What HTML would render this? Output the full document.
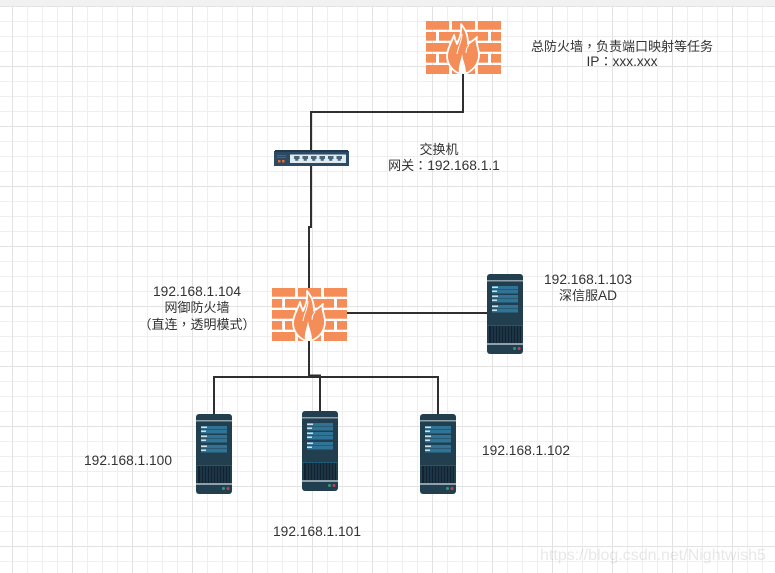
<!DOCTYPE html>
<html><head><meta charset="utf-8"><style>
html,body{margin:0;padding:0;background:#fff}
svg{display:block}
text{font-family:"Liberation Sans","WenQuanYi Zen Hei","Noto Sans CJK SC",sans-serif;font-size:13px;fill:#333;text-anchor:middle}
.l{font-size:13.75px}
.p{font-family:"Noto Sans CJK TC",sans-serif}
</style></head><body>
<svg width="775" height="573" viewBox="0 0 775 573" xmlns="http://www.w3.org/2000/svg">
<defs>
<pattern id="g" x="12" y="6" width="15" height="15" patternUnits="userSpaceOnUse"><path d="M.5 0V15M0 .5H15" stroke="#efefef" fill="none"/></pattern>
<pattern id="G" x="12" y="6" width="60" height="60" patternUnits="userSpaceOnUse"><path d="M.5 0V60M0 .5H60" stroke="#e2e2e2" fill="none"/></pattern>
<g id="fw">
<g fill="#f58d58">
<rect x="0" y="0" width="23" height="8.700"/><rect x="26" y="0" width="23" height="8.700"/><rect x="52" y="0" width="23" height="8.700"/>
<rect x="0" y="11" width="10" height="8.700"/><rect x="13" y="11" width="23" height="8.700"/><rect x="39" y="11" width="23" height="8.700"/><rect x="65" y="11" width="10" height="8.700"/>
<rect x="0" y="22" width="23" height="8.700"/><rect x="26" y="22" width="23" height="8.700"/><rect x="52" y="22" width="23" height="8.700"/>
<rect x="0" y="33" width="10" height="8.700"/><rect x="13" y="33" width="23" height="8.700"/><rect x="39" y="33" width="23" height="8.700"/><rect x="65" y="33" width="10" height="8.700"/>
<rect x="0" y="44" width="23" height="9"/><rect x="26" y="44" width="23" height="9"/><rect x="52" y="44" width="23" height="9"/>
</g>
<path d="M35 3C39 8 42 13 42 23C45 21 48 19 51 16C49 21 53 27 53 34C53 43 47 49 41 52H32C26 49 21 43 21 35C21 28 25 23 28 14C29 19 30 21 31 23C34 17 36 10 35 3Z" fill="#f58d58" stroke="#fff" stroke-width="1.800" stroke-linejoin="round"/>
<path d="M36 13C36 20 32 26 31 33" fill="none" stroke="#fff" stroke-width="1"/>
<path d="M43 24C41 26 40 29 40 32" fill="none" stroke="#fff" stroke-width="1"/>
<path d="M36 33C35 40 32 45 33 52H40C40 45 37 40 36 33Z" fill="#fff"/>
</g>
<g id="sv">
<rect width="36" height="80" rx="3" fill="#223f50"/>
<rect y="6" width="36" height="1.500" fill="#8fa1ab"/>
<rect x="5" y="12" width="26" height="3.500" fill="#2f7396"/><rect x="5" y="16" width="26" height="3.500" fill="#2f7396"/>
<rect x="5" y="21" width="26" height="3.500" fill="#2f7396"/><rect x="5" y="25" width="26" height="3.500" fill="#2f7396"/>
<rect x="5" y="31" width="26" height="3.500" fill="#2f7396"/><rect x="5" y="35" width="26" height="3.500" fill="#2f7396"/>
<rect x="5" y="12.500" width="6" height="1.500" fill="#cfe0e8"/><rect x="5" y="16.500" width="5" height="1.500" fill="#cfe0e8"/>
<rect x="5" y="21.500" width="6" height="1.500" fill="#cfe0e8"/><rect x="5" y="25.500" width="5" height="1.500" fill="#cfe0e8"/>
<rect x="5" y="31.500" width="6" height="1.500" fill="#cfe0e8"/><rect x="5" y="35.500" width="5" height="1.500" fill="#cfe0e8"/>
<rect y="51" width="36" height="1" fill="#1f5a75"/>
<rect x="2" y="52" width="32" height="17" fill="#12232f"/>
<path d="M5 52V69M8 52V69M11 52V69M14 52V69M17 52V69M20 52V69M23 52V69M26 52V69M29 52V69M32 52V69" stroke="#25495f" stroke-width="1"/>
<rect y="69" width="36" height="2" fill="#8fa1ab"/>
<rect x="26" y="73" width="3" height="3" rx="1.500" fill="#2f9a75"/><rect x="30.500" y="73" width="3" height="3" rx="1.500" fill="#c2405f"/>
</g>
<g id="port"><path d="M0 0H5.500V3H4.300V4.800H1.200V3H0Z" fill="#4a6478"/></g>
</defs>
<rect width="775" height="573" fill="#fff"/>
<rect width="775" height="573" fill="url(#g)"/>
<rect width="775" height="573" fill="url(#G)"/>
<rect width="775" height="6" fill="#f1f1f1"/>
<rect y="6" width="775" height="1" fill="#e4e4e4"/>
<g fill="none" stroke="#2f2f2f" stroke-width="2">
<path d="M463 74V112H311V150"/>
<path d="M311 166V227H309V288"/>
<path d="M309 341V376"/>
<path d="M347 313H487"/>
<path d="M214 414V377H438V414"/>
<path d="M309 375.500H320V411"/>
</g>
<use href="#fw" x="426" y="21"/>
<use href="#fw" x="272" y="288"/>
<rect x="274" y="151" width="75" height="15" fill="#2c4a64"/>
<rect x="275" y="150" width="73" height="2" fill="#1f3a50"/>
<rect x="290" y="154.500" width="56" height="8.500" fill="#dfeaf1"/>
<use href="#port" x="294" y="156"/><use href="#port" x="302.500" y="156"/><use href="#port" x="311" y="156"/><use href="#port" x="319.500" y="156"/><use href="#port" x="328" y="156"/><use href="#port" x="336.500" y="156"/>
<rect x="278" y="160" width="2.500" height="2.500" fill="#d9703c"/><rect x="282" y="160" width="2.500" height="2.500" fill="#d9703c"/>
<rect x="277" y="155" width="9" height="1" fill="#4b657c"/><rect x="277" y="157" width="9" height="1" fill="#4b657c"/>
<use href="#sv" x="487" y="274"/>
<use href="#sv" x="196" y="414"/>
<use href="#sv" x="302" y="411"/>
<use href="#sv" x="420" y="414"/>
<text x="622" y="51">总防火墙<tspan class="p">，</tspan>负责端口映射等任务</text>
<text x="622" y="66" class="l">IP<tspan class="p" style="font-size:13px">：</tspan>xxx.xxx</text>
<text x="439" y="154">交换机</text>
<text x="444" y="170">网关<tspan class="p">：</tspan><tspan class="l">192.168.1.1</tspan></text>
<text x="197" y="296" class="l">192.168.1.104</text>
<text x="197" y="312">网御防火墙</text>
<text x="197" y="329"><tspan class="p">（</tspan>直连<tspan class="p">，</tspan>透明模式<tspan class="p">）</tspan></text>
<text x="588" y="284" class="l">192.168.1.103</text>
<text x="588" y="300">深信服<tspan class="l">AD</tspan></text>
<text x="128" y="465" class="l">192.168.1.100</text>
<text x="317" y="536" class="l">192.168.1.101</text>
<text x="526" y="455" class="l">192.168.1.102</text>
<text x="653" y="560" style="font-size:16px;fill:#000;opacity:.09">https://blog.csdn.net/Nightwish5</text>
</svg>
</body></html>
